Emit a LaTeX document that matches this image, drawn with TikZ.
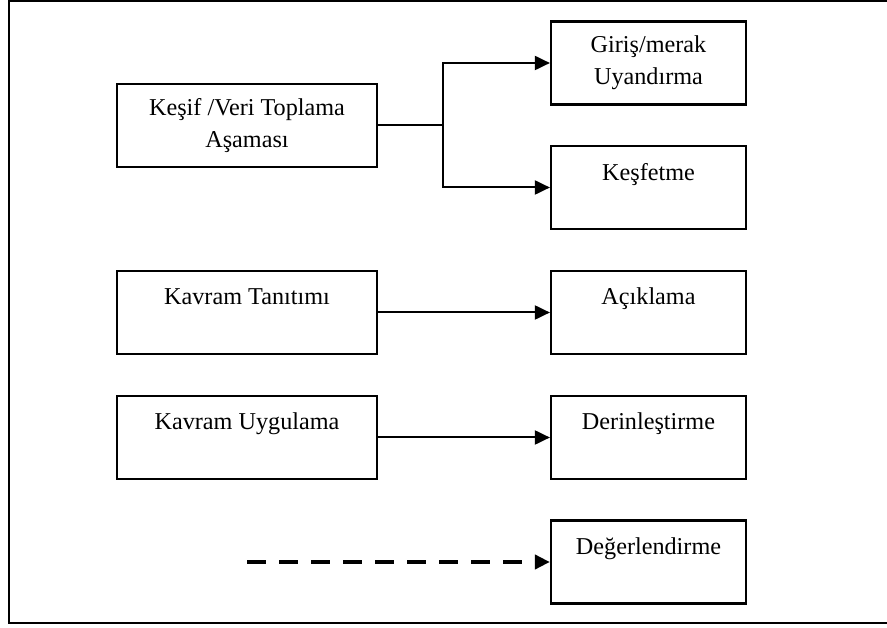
\documentclass[tikz,border=0pt]{standalone}
\usepackage{fontspec}
\setmainfont{Liberation Serif}
\usetikzlibrary{arrows.meta}

\begin{document}
\begin{tikzpicture}[
  x=1pt, y=-1pt,
  stagebox/.style={rectangle, draw, line width=2.2pt, minimum height=83pt, align=center, text centered, font=\fontsize{24.2}{32}\selectfont},
  leftbox/.style={stagebox, minimum width=260pt},
  rightbox/.style={stagebox, minimum width=195pt},
  conn/.style={-{Triangle[length=15pt,width=14pt]}, line width=2pt},
  dashconn/.style={-{Triangle[length=15pt,width=14pt]}, line width=4pt, dash pattern=on 19pt off 13pt}
]
\useasboundingbox (0,0) rectangle (887,628);

% Frame (right side is cut off)
\draw[line width=2pt] (887,1.5) -- (9,1.5) -- (9,623) -- (887,623);

% Left column
\node[leftbox] (kesif) at (247,125.5) {Keşif /Veri Toplama\\Aşaması};
\node[leftbox] (tanitim) at (247,312.5) {Kavram Tanıtımı\\\mbox{}};
\node[leftbox] (uygulama) at (247,437.5) {Kavram Uygulama\\\mbox{}};

% Right column
\node[rightbox] (giris) at (648.5,63) {Giriş/merak\\Uyandırma};
\node[rightbox] (kesfet) at (648.5,187.5) {Keşfetme\\\mbox{}};
\node[rightbox] (aciklama) at (648.5,312.5) {Açıklama\\\mbox{}};
\node[rightbox] (derin) at (648.5,437.5) {Derinleştirme\\\mbox{}};
\node[rightbox] (deger) at (648.5,562) {Değerlendirme\\\mbox{}};

% Arrows
\coordinate (split) at (443,125.5);
\draw[line width=2pt] (kesif.east) -- (split);
\draw[conn] (split) |- (giris.west);
\draw[conn] (split) |- (kesfet.west);
\draw[conn] (tanitim.east) -- (aciklama.west);
\draw[conn] (uygulama.east) -- (derin.west);

% Dashed arrow
\coordinate (dstart) at (247,562);
\draw[dashconn] (dstart) -- (deger.west);

\end{tikzpicture}
\end{document}
